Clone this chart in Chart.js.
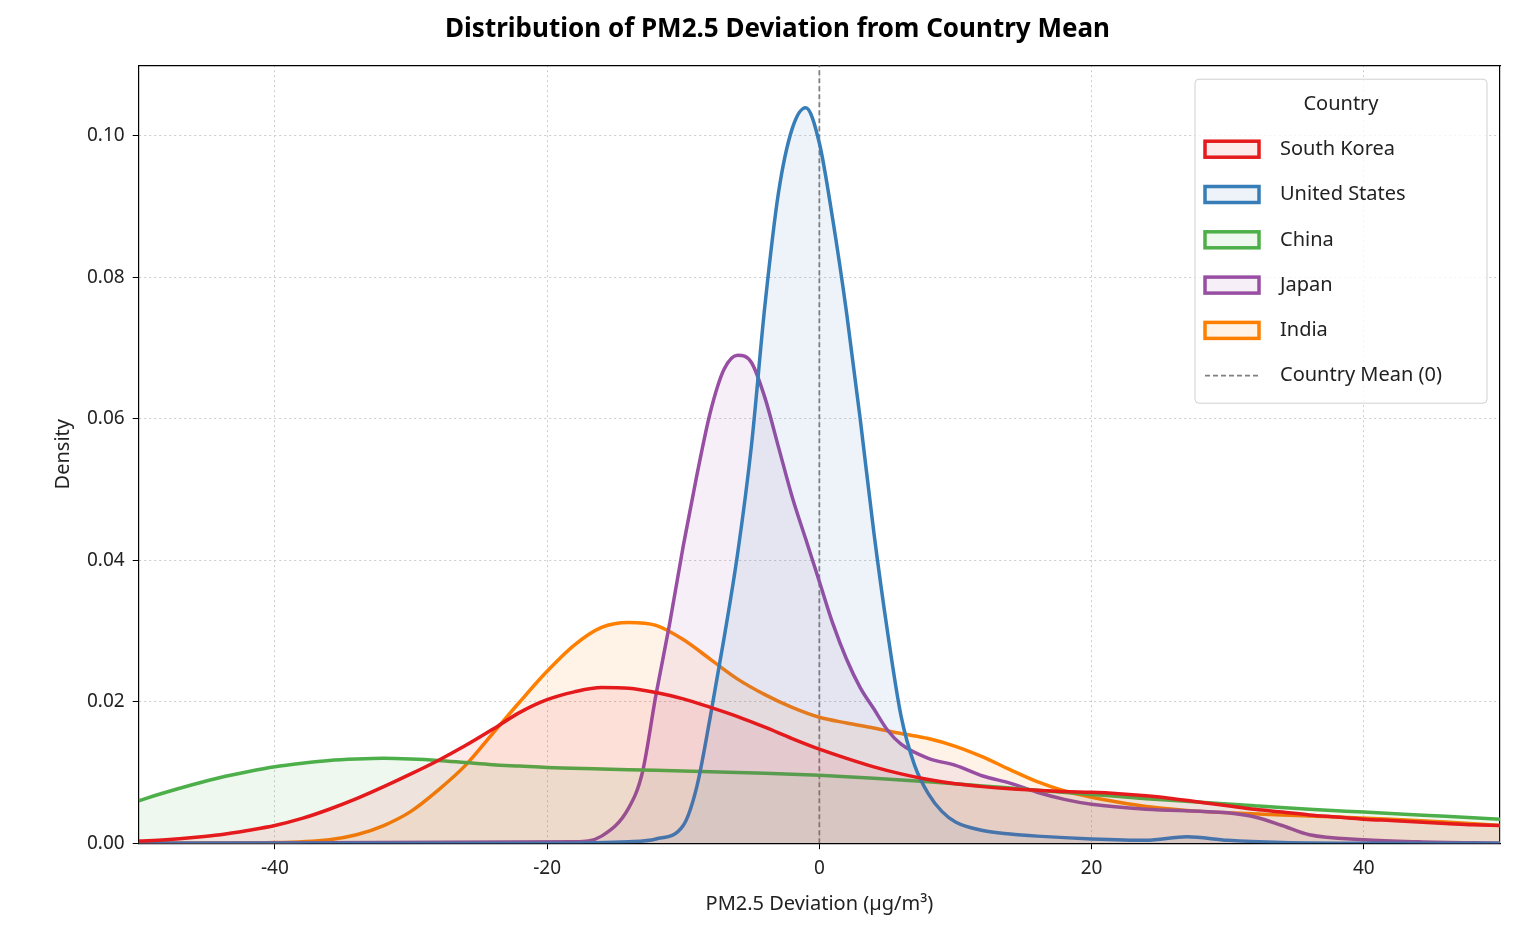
<!DOCTYPE html>
<html>
<head>
<meta charset="utf-8">
<script src="https://cdn.jsdelivr.net/npm/chart.js@4.4.1/dist/chart.umd.min.js"></script>
<style>
  body { margin: 0; background: #fff; }
  #wrap { width: 1519px; height: 940px; }
</style>
</head>
<body>
<div id="wrap"><canvas id="kde"></canvas></div>
<script>
const countries = ['South Korea', 'United States', 'China', 'Japan', 'India'];
const colors = ['#e41a1c', '#377eb8', '#4daf4a', '#984ea3', '#ff7f00'];
const xTicks = [-40, -20, 0, 20, 40];

const koreaX = [-50,-48,-46,-44,-42,-40,-38,-36,-34,-32,-30,-28,-26,-24,-22,-20,-18,-16,-14,-12,-10,-8,-6,-4,-2,0,2,4,6,8,10,12,14,16,18,20,22,24,26,28,30,32,34,36,38,40,42,44,46,48,50];
const koreaY = [0.0003,0.0005,0.0008,0.0012,0.0018,0.0025,0.0035,0.0048,0.0063,0.008,0.0098,0.0117,0.0138,0.0161,0.0185,0.0203,0.0214,0.022,0.0219,0.0213,0.0204,0.0192,0.0179,0.0164,0.0148,0.0133,0.012,0.0108,0.0098,0.009,0.0084,0.008,0.0077,0.0075,0.0073,0.0072,0.007,0.0067,0.0063,0.0058,0.0053,0.0048,0.0044,0.004,0.0037,0.0034,0.0032,0.003,0.0028,0.0026,0.0025];

const usX = [-50,-20,-14,-12,-10,-9,-8,-7,-6,-5,-4,-3,-2,-1,0,1,2,3,4,5,6,7,8,9,10,12,14,16,20,24,27,30,34,40,50];
const usY = [0,0,0.0002,0.0006,0.0025,0.008,0.018,0.029,0.041,0.056,0.076,0.092,0.101,0.104,0.099,0.088,0.075,0.06,0.044,0.03,0.018,0.011,0.007,0.0045,0.003,0.0018,0.0013,0.001,0.0006,0.0004,0.0009,0.0004,0.0001,0,0];

const chinaX = [-50,-48,-46,-44,-42,-40,-38,-36,-34,-32,-30,-28,-26,-24,-22,-20,-16,-12,-8,-4,0,4,8,12,16,20,24,28,32,36,40,44,48,50];
const chinaY = [0.006,0.0072,0.0083,0.0093,0.0101,0.0108,0.0113,0.0117,0.0119,0.012,0.0119,0.0117,0.0114,0.0111,0.0109,0.0107,0.0105,0.0103,0.0101,0.0099,0.0096,0.0092,0.0087,0.0081,0.0075,0.0069,0.0063,0.0058,0.0053,0.0048,0.0044,0.004,0.0036,0.0034];

const japanX = [-50,-18,-16,-14,-13,-12,-11,-10,-9,-8,-7,-6,-5,-4,-3,-2,-1,0,1,2,3,4,5,6,8,10,12,14,16,18,20,24,28,30,32,34,36,40,44,50];
const japanY = [0,0.0002,0.001,0.005,0.01,0.021,0.031,0.042,0.052,0.061,0.067,0.069,0.068,0.063,0.056,0.049,0.043,0.037,0.031,0.026,0.022,0.019,0.016,0.014,0.012,0.011,0.0095,0.0085,0.0072,0.0062,0.0055,0.0048,0.0045,0.0043,0.0037,0.0025,0.0012,0.0005,0.0002,0];

const indiaX = [-50,-40,-36,-34,-32,-30,-28,-26,-24,-22,-20,-18,-16,-14,-12,-10,-8,-6,-4,-2,0,2,4,6,8,10,12,14,16,18,20,22,24,26,28,30,34,38,42,46,50];
const indiaY = [0,0.0001,0.0005,0.0012,0.0025,0.0045,0.0075,0.011,0.0155,0.02,0.0243,0.028,0.0305,0.0312,0.0308,0.0288,0.026,0.0232,0.021,0.0192,0.0178,0.017,0.0163,0.0155,0.0148,0.0137,0.0122,0.0104,0.0087,0.0074,0.0065,0.0058,0.0052,0.0048,0.0045,0.0043,0.004,0.0037,0.0034,0.003,0.0025];

const seriesX = [koreaX, usX, chinaX, japanX, indiaX];
const seriesY = [koreaY, usY, chinaY, japanY, indiaY];

function toPoints(xs, ys) {
    return xs.map(function (x, i) { return { x: x, y: ys[i] }; });
}
function alpha(hex, a) {
    const n = parseInt(hex.slice(1), 16);
    return 'rgba(' + (n >> 16) + ',' + ((n >> 8) & 255) + ',' + (n & 255) + ',' + a + ')';
}

let datasets = countries.map(function (name, i) {
    return {
        label: name,
        data: toPoints(seriesX[i], seriesY[i]),
        borderColor: colors[i],
        backgroundColor: alpha(colors[i], 0.09),
        borderWidth: 3.5,
        fill: 'origin',
        cubicInterpolationMode: 'monotone',
        pointRadius: 0
    };
});
datasets.push({
    label: 'Country Mean (0)',
    data: [{ x: 0, y: 0 }, { x: 0, y: 0.11 }],
    borderColor: '#808080',
    borderWidth: 1.8,
    borderDash: [5, 3],
    fill: false,
    pointRadius: 0
});

/* Legend box drawn inside the plot, top right */
const boxLegend = {
    id: 'boxLegend',
    afterDraw: function (chart) {
        const ctx = chart.ctx;
        const ca = chart.chartArea;
        const w = 292, h = 324;
        const left = ca.right - 13 - w, top = ca.top + 14;
        ctx.save();
        ctx.fillStyle = 'rgba(255,255,255,0.8)';
        ctx.strokeStyle = '#d0d0d0';
        ctx.lineWidth = 1;
        ctx.beginPath();
        ctx.roundRect(left, top, w, h, 4);
        ctx.fill();
        ctx.stroke();
        ctx.font = '20px "Noto Sans"';
        ctx.fillStyle = '#222';
        ctx.textBaseline = 'middle';
        ctx.textAlign = 'center';
        ctx.fillText('Country', left + w / 2, top + 25);
        ctx.textAlign = 'left';
        for (let i = 0; i < 6; i++) {
            const cy = top + 70 + i * 45.3;
            if (i < 5) {
                ctx.fillStyle = alpha(colors[i], 0.09);
                ctx.fillRect(left + 10, cy - 8, 54, 16);
                ctx.strokeStyle = colors[i];
                ctx.lineWidth = 3.5;
                ctx.strokeRect(left + 10, cy - 8, 54, 16);
            } else {
                ctx.strokeStyle = '#808080';
                ctx.lineWidth = 1.8;
                ctx.setLineDash([5, 3]);
                ctx.beginPath();
                ctx.moveTo(left + 10, cy);
                ctx.lineTo(left + 64, cy);
                ctx.stroke();
                ctx.setLineDash([]);
            }
            ctx.fillStyle = '#222';
            ctx.fillText(i < 5 ? countries[i] : 'Country Mean (0)', left + 85, cy);
        }
        ctx.restore();
    }
};

const ctx = document.getElementById('kde').getContext('2d');
const myChart = new Chart(ctx, {
    type: 'line',
    data: { datasets: datasets },
    plugins: [boxLegend],
    options: {
        responsive: true,
        maintainAspectRatio: false,
        animation: false,
        layout: { padding: { left: 47, right: 11, top: 14, bottom: 20 } },
        plugins: {
            legend: { display: false },
            tooltip: { enabled: false },
            title: {
                display: true,
                text: 'Distribution of PM2.5 Deviation from Country Mean',
                color: '#000',
                font: { family: 'Noto Sans', size: 26, weight: 'bold' },
                padding: { top: 0, bottom: 12 }
            }
        },
        scales: {
            x: {
                type: 'linear',
                min: -50, max: 50,
                afterBuildTicks: function (axis) {
                    axis.ticks = xTicks.map(function (v) { return { value: v }; });
                },
                ticks: { color: '#222', font: { family: 'Noto Sans', size: 19 }, padding: 8 },
                grid: { color: '#cccccc', lineWidth: 1, drawTicks: true, tickColor: '#000', tickLength: 6 },
                border: { color: '#000', width: 1.2, dash: [2, 3] },
                title: { display: true, text: 'PM2.5 Deviation (µg/m³)', color: '#222', font: { family: 'Noto Sans', size: 20 } }
            },
            y: {
                min: 0, max: 0.11,
                afterBuildTicks: function (axis) {
                    axis.ticks = [0, 0.02, 0.04, 0.06, 0.08, 0.1].map(function (v) { return { value: v }; });
                },
                ticks: {
                    color: '#222', font: { family: 'Noto Sans', size: 19 }, padding: 8,
                    callback: function (v) { return v.toFixed(2); }
                },
                grid: { color: '#cccccc', lineWidth: 1, tickColor: '#000', tickLength: 6 },
                border: { color: '#000', width: 1.2, dash: [2, 3] },
                title: { display: true, text: 'Density', color: '#222', font: { family: 'Noto Sans', size: 20 } }
            },
            x2: {
                position: 'top', type: 'linear', min: -50, max: 50,
                ticks: { display: false }, grid: { display: false },
                border: { color: '#000', width: 1.2 }
            },
            y2: {
                position: 'right', min: 0, max: 0.11,
                ticks: { display: false }, grid: { display: false },
                border: { color: '#000', width: 1.2 }
            }
        }
    }
});
</script>
</body>
</html>
